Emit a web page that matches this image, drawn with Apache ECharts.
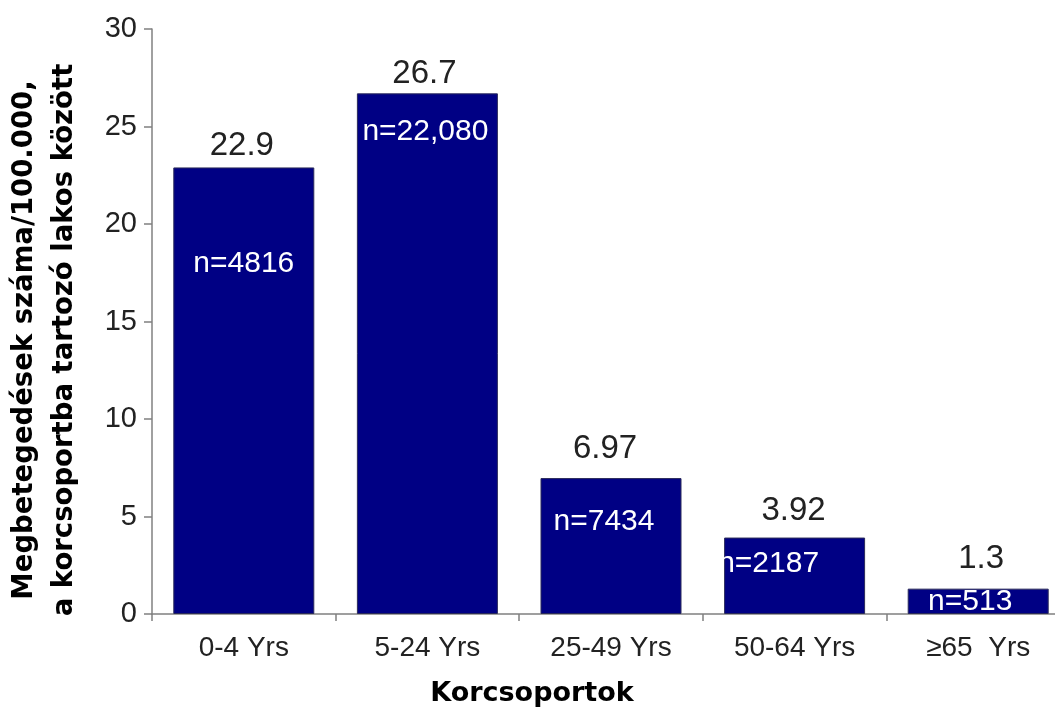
<!DOCTYPE html>
<html>
<head>
<meta charset="utf-8">
<script src="https://cdn.jsdelivr.net/npm/echarts@6/dist/echarts.min.js"></script>
<style>
  html, body { margin: 0; padding: 0; background: #fff; }
  #c { width: 1055px; height: 707px; }
</style>
</head>
<body>
<div id="c"></div>
<script>
// ---- Data ----
const categories = ['0-4 Yrs', '5-24 Yrs', '25-49 Yrs', '50-64 Yrs', '≥65  Yrs'];
const rates = [22.9, 26.7, 6.97, 3.92, 1.3];
const caseCounts = ['n=4816', 'n=22,080', 'n=7434', 'n=2187', 'n=513'];
const yAxisTitle = 'Megbetegedések száma/100.000,\na korcsoportba tartozó lakos között';
const xAxisTitle = 'Korcsoportok';

// ---- Label nudges (layout only) ----
const valueLabelOffsets = [[-2, 0], [-3, 2], [-6, -8], [-1, -5], [3, -8]];
const countLabelOffsets = [[0, 76], [-2, 18], [-7, 24], [-26, 6], [-8, -7]];

const chart = echarts.init(document.getElementById('c'), null, { renderer: 'canvas' });

const axisGray = '#808080';

const option = {
  animation: false,
  backgroundColor: '#ffffff',
  grid: {
    left: 152, top: 29, bottom: 93, right: -15,
    containLabel: false, outerBoundsMode: 'none'
  },
  xAxis: {
    type: 'category',
    data: categories,
    axisLine: { show: true, lineStyle: { color: axisGray, width: 1.5 } },
    axisTick: { show: true, length: 7, lineStyle: { color: axisGray, width: 1.5 } },
    axisLabel: {
      interval: 0, color: '#222', fontFamily: 'Liberation Sans', fontSize: 28, margin: 20
    },
    name: xAxisTitle,
    nameLocation: 'middle',
    nameGap: 66,
    nameTextStyle: {
      fontFamily: 'DejaVu Sans', fontWeight: 'bold', fontSize: 27, color: '#000',
      padding: [0, 158, 0, 0]
    }
  },
  yAxis: {
    type: 'value',
    min: 0, max: 30, interval: 5,
    splitLine: { show: false },
    axisLine: { show: true, lineStyle: { color: axisGray, width: 1.5 } },
    axisTick: { show: true, length: 8, lineStyle: { color: axisGray, width: 1.5 } },
    axisLabel: { color: '#222', fontFamily: 'Liberation Sans', fontSize: 29, margin: 15 },
    name: yAxisTitle,
    nameLocation: 'middle',
    nameGap: 67,
    nameTextStyle: {
      fontFamily: 'DejaVu Sans', fontWeight: 'bold', fontSize: 27.5, color: '#000',
      lineHeight: 40, align: 'center',
      padding: [0, 37, 0, 0]
    }
  },
  series: [
    {
      type: 'bar',
      barWidth: 141,
      data: rates.map((v, i) => ({ value: v, label: { offset: valueLabelOffsets[i] } })),
      itemStyle: { color: '#000084', borderColor: '#2a2a5a', borderWidth: 1 },
      label: {
        show: true, position: 'top', distance: 5,
        color: '#222', fontFamily: 'Liberation Sans', fontSize: 33,
        formatter: p => String(p.value)
      },
      z: 2
    },
    {
      type: 'bar',
      barWidth: 141,
      barGap: '-100%',
      data: rates.map((v, i) => ({ value: v, label: { offset: countLabelOffsets[i] } })),
      itemStyle: { color: 'rgba(0,0,0,0)' },
      label: {
        show: true, position: 'insideTop', distance: 5,
        color: '#ffffff', fontFamily: 'Liberation Sans', fontSize: 30,
        formatter: p => caseCounts[p.dataIndex]
      },
      silent: true,
      z: 3
    }
  ]
};

chart.setOption(option);
</script>
</body>
</html>
